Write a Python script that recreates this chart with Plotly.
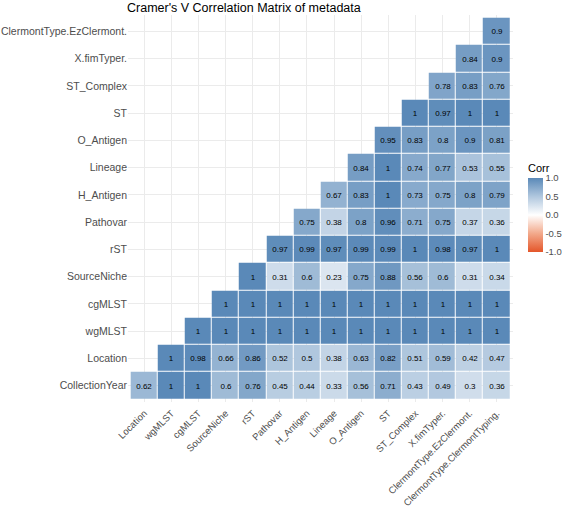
import plotly.graph_objects as go

x_labels = ["Location", "wgMLST", "cgMLST", "SourceNiche", "rST", "Pathovar", "H_Antigen",
            "Lineage", "O_Antigen", "ST", "ST_Complex", "X.fimTyper.",
            "ClermontType.EzClermont.", "ClermontType.ClermontTyping."]
y_labels = ["CollectionYear", "Location", "wgMLST", "cgMLST", "SourceNiche", "rST", "Pathovar",
            "H_Antigen", "Lineage", "O_Antigen", "ST", "ST_Complex", "X.fimTyper.",
            "ClermontType.EzClermont."]

# each row starts at the column with the same index
row_CollectionYear = [0.62, 1, 1, 0.6, 0.76, 0.45, 0.44, 0.33, 0.56, 0.71, 0.43, 0.49, 0.3, 0.36]
row_Location = [1, 0.98, 0.66, 0.86, 0.52, 0.5, 0.38, 0.63, 0.82, 0.51, 0.59, 0.42, 0.47]
row_wgMLST = [1, 1, 1, 1, 1, 1, 1, 1, 1, 1, 1, 1]
row_cgMLST = [1, 1, 1, 1, 1, 1, 1, 1, 1, 1, 1]
row_SourceNiche = [1, 0.31, 0.6, 0.23, 0.75, 0.88, 0.56, 0.6, 0.31, 0.34]
row_rST = [0.97, 0.99, 0.97, 0.99, 0.99, 1, 0.98, 0.97, 1]
row_Pathovar = [0.75, 0.38, 0.8, 0.96, 0.71, 0.75, 0.37, 0.36]
row_H_Antigen = [0.67, 0.83, 1, 0.73, 0.75, 0.8, 0.79]
row_Lineage = [0.84, 1, 0.74, 0.77, 0.53, 0.55]
row_O_Antigen = [0.95, 0.83, 0.8, 0.9, 0.81]
row_ST = [1, 0.97, 1, 1]
row_ST_Complex = [0.78, 0.83, 0.76]
row_fimTyper = [0.84, 0.9]
row_EzClermont = [0.9]

rows = [row_CollectionYear, row_Location, row_wgMLST, row_cgMLST, row_SourceNiche, row_rST,
        row_Pathovar, row_H_Antigen, row_Lineage, row_O_Antigen, row_ST, row_ST_Complex,
        row_fimTyper, row_EzClermont]

n = len(x_labels)
z = []
txt = []
for i, r in enumerate(rows):
    zr = [None] * i + list(r)
    z.append(zr)
    txt.append(["" if v is None else f"{v:g}" for v in zr])

colorscale = [
    [0.0, "#E4562A"],
    [0.25, "#F2A98B"],
    [0.5, "#FFFFFF"],
    [0.75, "#B0C7DE"],
    [1.0, "#5A89B8"],
]

L, R, T, B = 128, 49, 15, 109
W, H = 562, 511
plot_h = H - T - B

fig = go.Figure(go.Heatmap(
    z=z, x=x_labels, y=y_labels, text=txt, texttemplate="%{text}",
    textfont=dict(size=8, color="black", family="Liberation Sans, Arial"),
    zmin=-1, zmax=1, colorscale=colorscale, xgap=1, ygap=1,
    hoverongaps=False,
    colorbar=dict(
        title=dict(text="Corr", side="top", font=dict(size=11, color="black")),
        tickvals=[-1, -0.5, 0, 0.5, 1], ticktext=["-1.0", "-0.5", "0.0", "0.5", "1.0"],
        tickfont=dict(size=9.5, color="#4D4D4D"),
        thickness=15, lenmode="pixels", len=91, ypad=0, xpad=0,
        x=(528 - L) / (W - L - R), xanchor="left",
        y=(H - B - 252) / plot_h, yanchor="bottom",
        outlinewidth=0, ticks="",
    ),
))

fig.update_layout(
    width=W, height=H,
    margin=dict(l=L, r=R, t=T, b=B, autoexpand=False),
    paper_bgcolor="white", plot_bgcolor="white",
    font=dict(family="Liberation Sans, Arial", color="#4D4D4D"),
    title=dict(text="Cramer's V Correlation Matrix of metadata", x=127 / W, xanchor="left",
               y=1 - 8 / H, yanchor="middle", font=dict(size=12.5, color="black")),
    xaxis=dict(type="category", categoryorder="array", categoryarray=x_labels,
               range=[-0.6, n - 0.4], tickangle=-45, tickfont=dict(size=9.5, color="#4D4D4D"),
               showgrid=True, gridcolor="#EBEBEB", gridwidth=1, zeroline=False, showline=False,
               ticks="", automargin=False, ticklabelstandoff=3),
    yaxis=dict(type="category", categoryorder="array", categoryarray=y_labels,
               range=[-0.6, n - 0.4], tickfont=dict(size=10.5, color="#4D4D4D"),
               showgrid=True, gridcolor="#EBEBEB", gridwidth=1, zeroline=False, showline=False,
               ticks="", automargin=False),
)

fig.write_html("out.html")
